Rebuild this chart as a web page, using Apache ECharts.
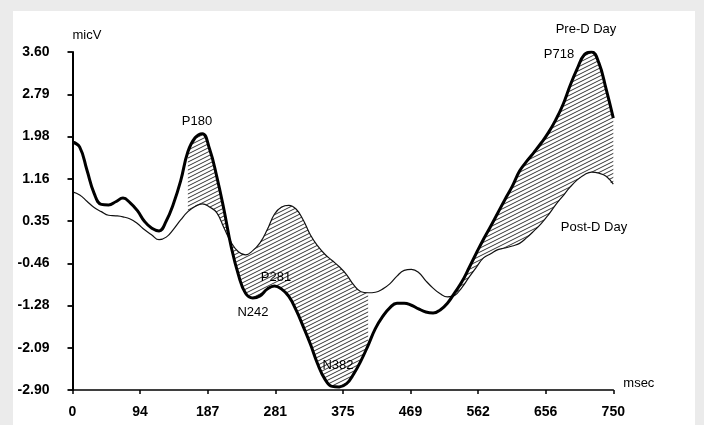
<!DOCTYPE html>
<html>
<head>
<meta charset="utf-8">
<script src="https://cdn.jsdelivr.net/npm/echarts@6/dist/echarts.min.js"></script>
<style>
  html, body { margin: 0; padding: 0; background: #ebebeb; }
  #frame { position: relative; width: 704px; height: 425px; overflow: hidden; }
  #panel { position: absolute; left: 13px; top: 11px; width: 682px; height: 420px; background: #ffffff; }
  #chart { position: absolute; left: 0; top: 0; width: 704px; height: 425px; }
</style>
</head>
<body>
<div id="frame"><div id="panel"></div><div id="chart"></div></div>
<script>
// Sampling times (msec) shared by both waveforms
const msec = [
  0, 10, 20, 30, 40, 50, 60, 70, 80, 90,
  100, 110, 120, 130, 140, 150, 160, 170, 180, 190,
  200, 210, 220, 230, 240, 250, 260, 270, 280, 290,
  300, 310, 320, 330, 340, 350, 360, 370, 380, 390,
  400, 410, 420, 430, 440, 450, 460, 470, 480, 490,
  500, 510, 520, 530, 540, 550, 560, 570, 580, 590,
  600, 610, 620, 630, 640, 650, 660, 670, 680, 690,
  700, 710, 720, 730, 740, 750
];

// Pre-D Day waveform (micV)
const preD = [
  1.87, 1.77, 1.33, 0.88, 0.67, 0.66, 0.72, 0.79, 0.70, 0.55,
  0.34, 0.21, 0.16, 0.35, 0.68, 1.12, 1.68, 1.95, 2.03, 1.74,
  1.21, 0.57, -0.14, -0.68, -1.04, -1.13, -1.09, -0.96, -0.90, -0.96,
  -1.10, -1.36, -1.68, -2.02, -2.40, -2.69, -2.83, -2.84, -2.78, -2.59,
  -2.34, -2.04, -1.72, -1.49, -1.32, -1.23, -1.23, -1.27, -1.34, -1.40,
  -1.42, -1.36, -1.23, -1.03, -0.82, -0.55, -0.27, 0.00, 0.25, 0.51,
  0.77, 1.02, 1.31, 1.50, 1.67, 1.85, 2.05, 2.29, 2.58, 2.95,
  3.28, 3.55, 3.60, 3.39, 2.89, 2.33
];

// Post-D Day waveform (micV)
const postD = [
  0.91, 0.85, 0.73, 0.61, 0.53, 0.46, 0.45, 0.43, 0.39, 0.30,
  0.18, 0.08, -0.01, 0.04, 0.19, 0.37, 0.53, 0.63, 0.68, 0.62,
  0.51, 0.22, -0.06, -0.24, -0.30, -0.22, -0.07, 0.18, 0.48, 0.62,
  0.65, 0.58, 0.37, 0.08, -0.13, -0.29, -0.41, -0.53, -0.68, -0.88,
  -1.01, -1.03, -1.02, -0.96, -0.86, -0.71, -0.60, -0.58, -0.64, -0.80,
  -0.94, -1.05, -1.11, -1.08, -0.93, -0.73, -0.54, -0.36, -0.28, -0.20,
  -0.17, -0.13, -0.08, 0.03, 0.16, 0.30, 0.47, 0.66, 0.83, 1.00,
  1.14, 1.24, 1.29, 1.27, 1.21, 1.06
];

// Time windows where the difference between the two days is shaded
const shadedWindows = [[160, 410], [530, 750]];

// Axis tick labels
const xTickLabels = ['0', '94', '187', '281', '375', '469', '562', '656', '750'];
const yTickLabels = ['-2.90', '-2.09', '-1.28', '-0.46', '0.35', '1.16', '1.98', '2.79', '3.60'];

const seriesNames = ['Pre-D Day', 'Post-D Day'];

const X_MIN = 0, X_MAX = 750, X_STEP = 93.75;
const Y_MIN = -2.9, Y_MAX = 3.6;

// Diagonal hatch tile used to shade the difference between the waveforms
function hatchCanvas() {
  const w = 8, h = 4;
  const c = document.createElement('canvas');
  c.width = w; c.height = h;
  const g = c.getContext('2d');
  g.strokeStyle = '#1c1c1c';
  g.lineWidth = 0.9;
  for (const k of [0, h, 2 * h]) {
    g.beginPath();
    g.moveTo(-2, k + 2 * h / w);
    g.lineTo(w + 2, k - (w + 2) * h / w);
    g.stroke();
  }
  return c;
}

const inWindow = t => shadedWindows.some(([a, b]) => t >= a && t <= b);
const nearWindow = i => inWindow(msec[i]) ||
  (i > 0 && inWindow(msec[i - 1])) || (i < msec.length - 1 && inWindow(msec[i + 1]));

// Upper envelope inside the shaded windows: hatched down to the axis floor
const envUpper = msec.map((t, i) => [t, inWindow(t) ? Math.max(preD[i], postD[i]) : null]);
// Lower envelope, one sample wider on each side: painted white below it, so only the
// band between the curves keeps its hatching (the extra width hides edge seams)
const envLower = msec.map((t, i) => [t, nearWindow(i) ? Math.min(preD[i], postD[i]) : null]);
if (inWindow(msec[msec.length - 1])) {
  envLower.push([X_MAX + 6, envLower[envLower.length - 1][1]]);
}

const SMOOTH = 0.45;
const font = 'Liberation Sans, Arial, Helvetica, sans-serif';

const chart = echarts.init(document.getElementById('chart'), null, { renderer: 'canvas' });

chart.setOption({
  animation: false,
  backgroundColor: 'transparent',
  grid: { left: 72.5, right: 90.7, top: 52, bottom: 35, containLabel: false },
  xAxis: {
    type: 'value', min: X_MIN, max: X_MAX, interval: X_STEP, z: 10,
    name: 'msec', nameLocation: 'end', nameGap: 10,
    nameTextStyle: { color: '#000', fontSize: 13, fontFamily: font, verticalAlign: 'bottom' },
    axisLine: { show: true, onZero: false, lineStyle: { color: '#000', width: 1.6 } },
    axisTick: { show: true, length: 4, lineStyle: { color: '#000', width: 1.5 } },
    axisLabel: {
      color: '#000', fontSize: 14, fontWeight: 'bold', fontFamily: font, margin: 15,
      formatter: v => xTickLabels[Math.round(v / X_STEP)]
    },
    splitLine: { show: false }
  },
  yAxis: [
    { type: 'value', min: Y_MIN, max: Y_MAX, show: false },
    {
      type: 'value', min: 0, max: yTickLabels.length - 1, interval: 1, position: 'left', z: 10,
      name: 'micV', nameLocation: 'end', nameGap: 10,
      nameTextStyle: { color: '#000', fontSize: 13, fontFamily: font, align: 'left', verticalAlign: 'bottom' },
      axisLine: { show: true, onZero: false, lineStyle: { color: '#000', width: 2 } },
      axisTick: { show: true, length: 5, lineStyle: { color: '#000', width: 1.8 } },
      axisLabel: {
        color: '#000', fontSize: 14, fontWeight: 'bold', fontFamily: font, margin: 23,
        formatter: v => yTickLabels[Math.round(v)]
      },
      splitLine: { show: false }
    }
  ],
  series: [
    {
      name: 'shade-upper', type: 'line', yAxisIndex: 0,
      data: envUpper, smooth: SMOOTH, symbol: 'none', silent: true,
      lineStyle: { opacity: 0, width: 0 },
      areaStyle: { color: { image: hatchCanvas(), repeat: 'repeat' }, opacity: 1, origin: 'start' }, z: 1
    },
    {
      name: 'shade-lower', type: 'line', yAxisIndex: 0, clip: false,
      data: envLower, smooth: SMOOTH, symbol: 'none', silent: true,
      lineStyle: { opacity: 0, width: 0 },
      areaStyle: { color: '#ffffff', opacity: 1, origin: 'start' }, z: 2
    },
    {
      name: seriesNames[1], type: 'line', yAxisIndex: 0,
      data: msec.map((t, i) => [t, postD[i]]), smooth: SMOOTH, symbol: 'none',
      lineStyle: { color: '#111', width: 1.2 }, z: 3
    },
    {
      name: seriesNames[0], type: 'line', yAxisIndex: 0,
      data: msec.map((t, i) => [t, preD[i]]), smooth: SMOOTH, symbol: 'none',
      lineStyle: { color: '#000', width: 3 }, z: 4
    }
  ],
  graphic: [
    ['P180', 197, 121], ['P281', 276, 277], ['N242', 253, 312], ['N382', 338, 365], ['P718', 559, 54],
    ['Pre-D Day', 586, 29], ['Post-D Day', 594, 227]
  ].map(([text, x, y]) => ({
    type: 'text', x, y, z: 100, silent: true,
    style: { text, fill: '#000', font: '13px ' + font, align: 'center', verticalAlign: 'middle' }
  }))
});
</script>
</body>
</html>
